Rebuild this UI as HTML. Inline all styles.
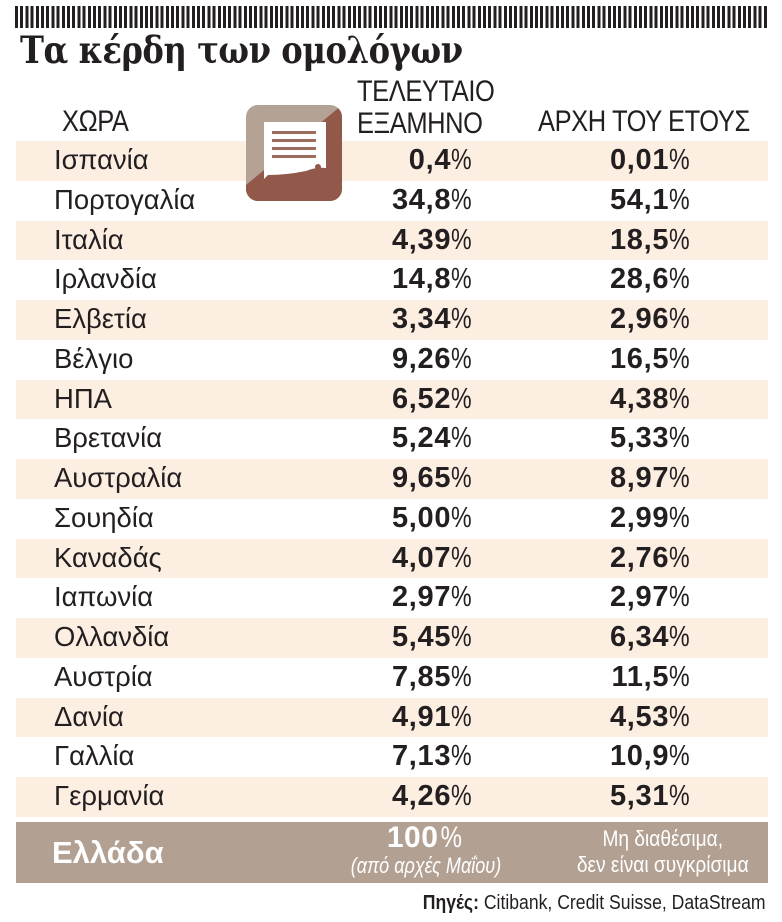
<!DOCTYPE html>
<html><head><meta charset="utf-8"><style>
body{margin:0;width:782px;height:922px;background:#fff;position:relative;overflow:hidden;font-family:"Liberation Sans","DejaVu Sans",sans-serif;color:#231f20}
.bar{position:absolute;left:15px;top:6px;width:753px;height:22px;background:repeating-linear-gradient(90deg,#231f20 0 3px,#fff 3px 5.2px)}
.title{position:absolute;left:20px;top:28px;font-family:"DejaVu Serif","Liberation Serif",serif;font-weight:bold;font-size:37px;letter-spacing:-0.5px;transform:scaleX(0.87);transform-origin:left top;white-space:nowrap}
.h{position:absolute;font-size:30px;transform:scaleX(0.85);transform-origin:left top;line-height:32px;letter-spacing:-0.5px;white-space:nowrap}
.row{position:absolute;left:16px;width:752px;height:39.75px}
.row.s{background:#fdeee2}
.c{position:absolute;left:38px;top:3px;font-size:28px;transform:scaleX(0.98);transform-origin:left top}
.v{position:absolute;top:3px;font-size:29px;text-align:right;width:200px}
.v b{font-weight:900;letter-spacing:0.7px}
.v1{left:261px}.v2{left:479px}
.v span{display:inline-block;transform:scaleX(0.8);transform-origin:left}
.gr{position:absolute;left:16px;top:822px;width:752px;height:61px;background:#b2a092;color:#fff}
.src{position:absolute;right:16px;top:892px;font-size:20px;transform:scaleX(0.88);transform-origin:right top}
</style></head><body>
<div class="bar"></div>
<div class="title">Τα κέρδη των ομολόγων</div>
<div class="h" style="left:62px;top:106px">ΧΩΡΑ</div>
<div class="h" style="left:357px;top:76px">ΤΕΛΕΥΤΑΙΟ<br>ΕΞΑΜΗΝΟ</div>
<div class="h" style="left:538px;top:106px">ΑΡΧΗ ΤΟΥ ΕΤΟΥΣ</div>
<div id="rows"></div>
<svg style="position:absolute;left:246px;top:105px" width="96" height="96" viewBox="0 0 96 96">
<defs><clipPath id="cp"><rect x="0" y="0" width="96" height="96" rx="12"/></clipPath></defs>
<g clip-path="url(#cp)"><rect width="96" height="96" fill="#b4a395"/><polygon points="96,0 96,96 0,96 0,80" fill="#92584a"/></g>
<path d="M18 17 H80 V63 Q70 62 60 66 Q40 70 22 70 L18 74 Z" fill="#fff"/>
<rect x="26" y="26" width="44" height="3" fill="#9c6d5c"/><rect x="26" y="34" width="44" height="3" fill="#9c6d5c"/><rect x="26" y="42" width="44" height="3" fill="#9c6d5c"/><rect x="26" y="50" width="44" height="3" fill="#9c6d5c"/>
<circle cx="72" cy="62" r="3" fill="#92584a"/>
</svg>
<div class="gr">
<div style="position:absolute;left:36px;top:13px;font-size:31px;font-weight:bold">Ελλάδα</div>
<div style="position:absolute;left:310px;width:200px;top:1px;text-align:center;font-size:30px;line-height:30px"><b style="font-weight:900;letter-spacing:0.5px">100</b><span style="display:inline-block;transform:scaleX(.8)">%</span></div>
<div style="position:absolute;left:310px;width:200px;top:31px;text-align:center;font-size:22px;font-style:italic;transform:scaleX(.82)">(από αρχές Μαΐου)</div>
<div style="position:absolute;left:538px;width:250px;top:4px;text-align:center;font-size:22px;line-height:26px;transform:scaleX(.87);transform-origin:left top">Μη διαθέσιμα,<br>δεν είναι συγκρίσιμα</div>
</div>
<div class="src"><b>Πηγές:</b> Citibank, Credit Suisse, DataStream</div>
<script>
var d=[["Ισπανία","0,4","0,01"],["Πορτογαλία","34,8","54,1"],["Ιταλία","4,39","18,5"],["Ιρλανδία","14,8","28,6"],["Ελβετία","3,34","2,96"],["Βέλγιο","9,26","16,5"],["ΗΠΑ","6,52","4,38"],["Βρετανία","5,24","5,33"],["Αυστραλία","9,65","8,97"],["Σουηδία","5,00","2,99"],["Καναδάς","4,07","2,76"],["Ιαπωνία","2,97","2,97"],["Ολλανδία","5,45","6,34"],["Αυστρία","7,85","11,5"],["Δανία","4,91","4,53"],["Γαλλία","7,13","10,9"],["Γερμανία","4,26","5,31"]];
var h="";d.forEach(function(r,i){h+='<div class="row'+(i%2==0?' s':'')+'" style="top:'+(141+i*39.75)+'px"><div class="c">'+r[0]+'</div><div class="v v1"><b>'+r[1]+'</b><span>%</span></div><div class="v v2"><b>'+r[2]+'</b><span>%</span></div></div>'});
document.getElementById("rows").innerHTML=h;
</script>
</body></html>
